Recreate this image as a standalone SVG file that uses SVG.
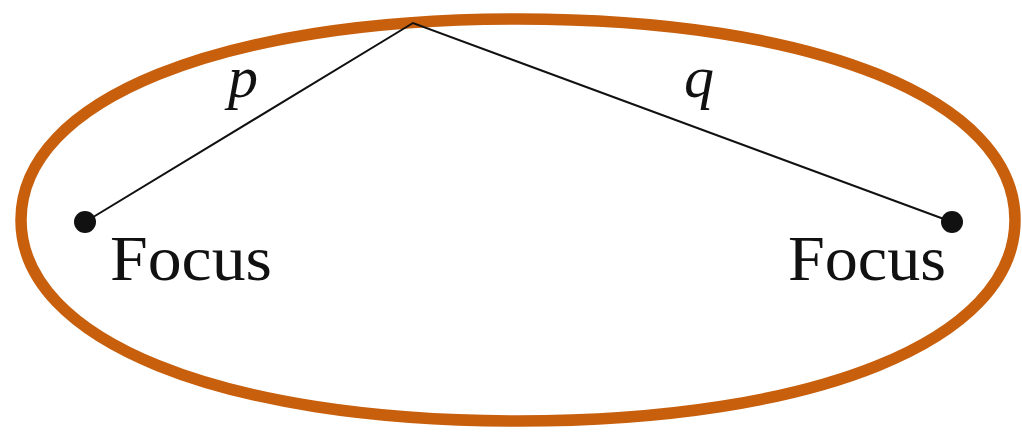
<svg xmlns="http://www.w3.org/2000/svg" width="1022" height="432" viewBox="0 0 1022 432">
<style>
.curve{fill:none;stroke:#c75f0c;stroke-width:11.5}
.seg{fill:none;stroke:#111;stroke-width:2}
.dot{fill:#111}
.lbl{font-family:"Liberation Serif",serif;font-size:63px;fill:#111}
.var{font-family:"Liberation Serif",serif;font-style:italic;font-size:60px;fill:#111}
</style>
<rect width="1022" height="432" fill="#fff"/>
<g id="ellipse"><path class="curve" d="M1015,220 C1015,99.8 815.2,19 518,19 C220.8,19 21,99.8 21,220 C21,340.2 220.8,421 518,421 C815.2,421 1015,340.2 1015,220 Z"/></g>
<g id="connectors">
<polyline class="seg" points="85,222 413,23 952,222"/>
<text class="var" x="228" y="97">p</text>
<text class="var" x="684" y="97">q</text>
</g>
<g id="focus-left">
<circle class="dot" cx="85" cy="222" r="11"/>
<text class="lbl" x="110" y="280" textLength="162" lengthAdjust="spacingAndGlyphs">Focus</text>
</g>
<g id="focus-right">
<circle class="dot" cx="952" cy="222" r="11"/>
<text class="lbl" x="788" y="280" textLength="158" lengthAdjust="spacingAndGlyphs">Focus</text>
</g>
</svg>
